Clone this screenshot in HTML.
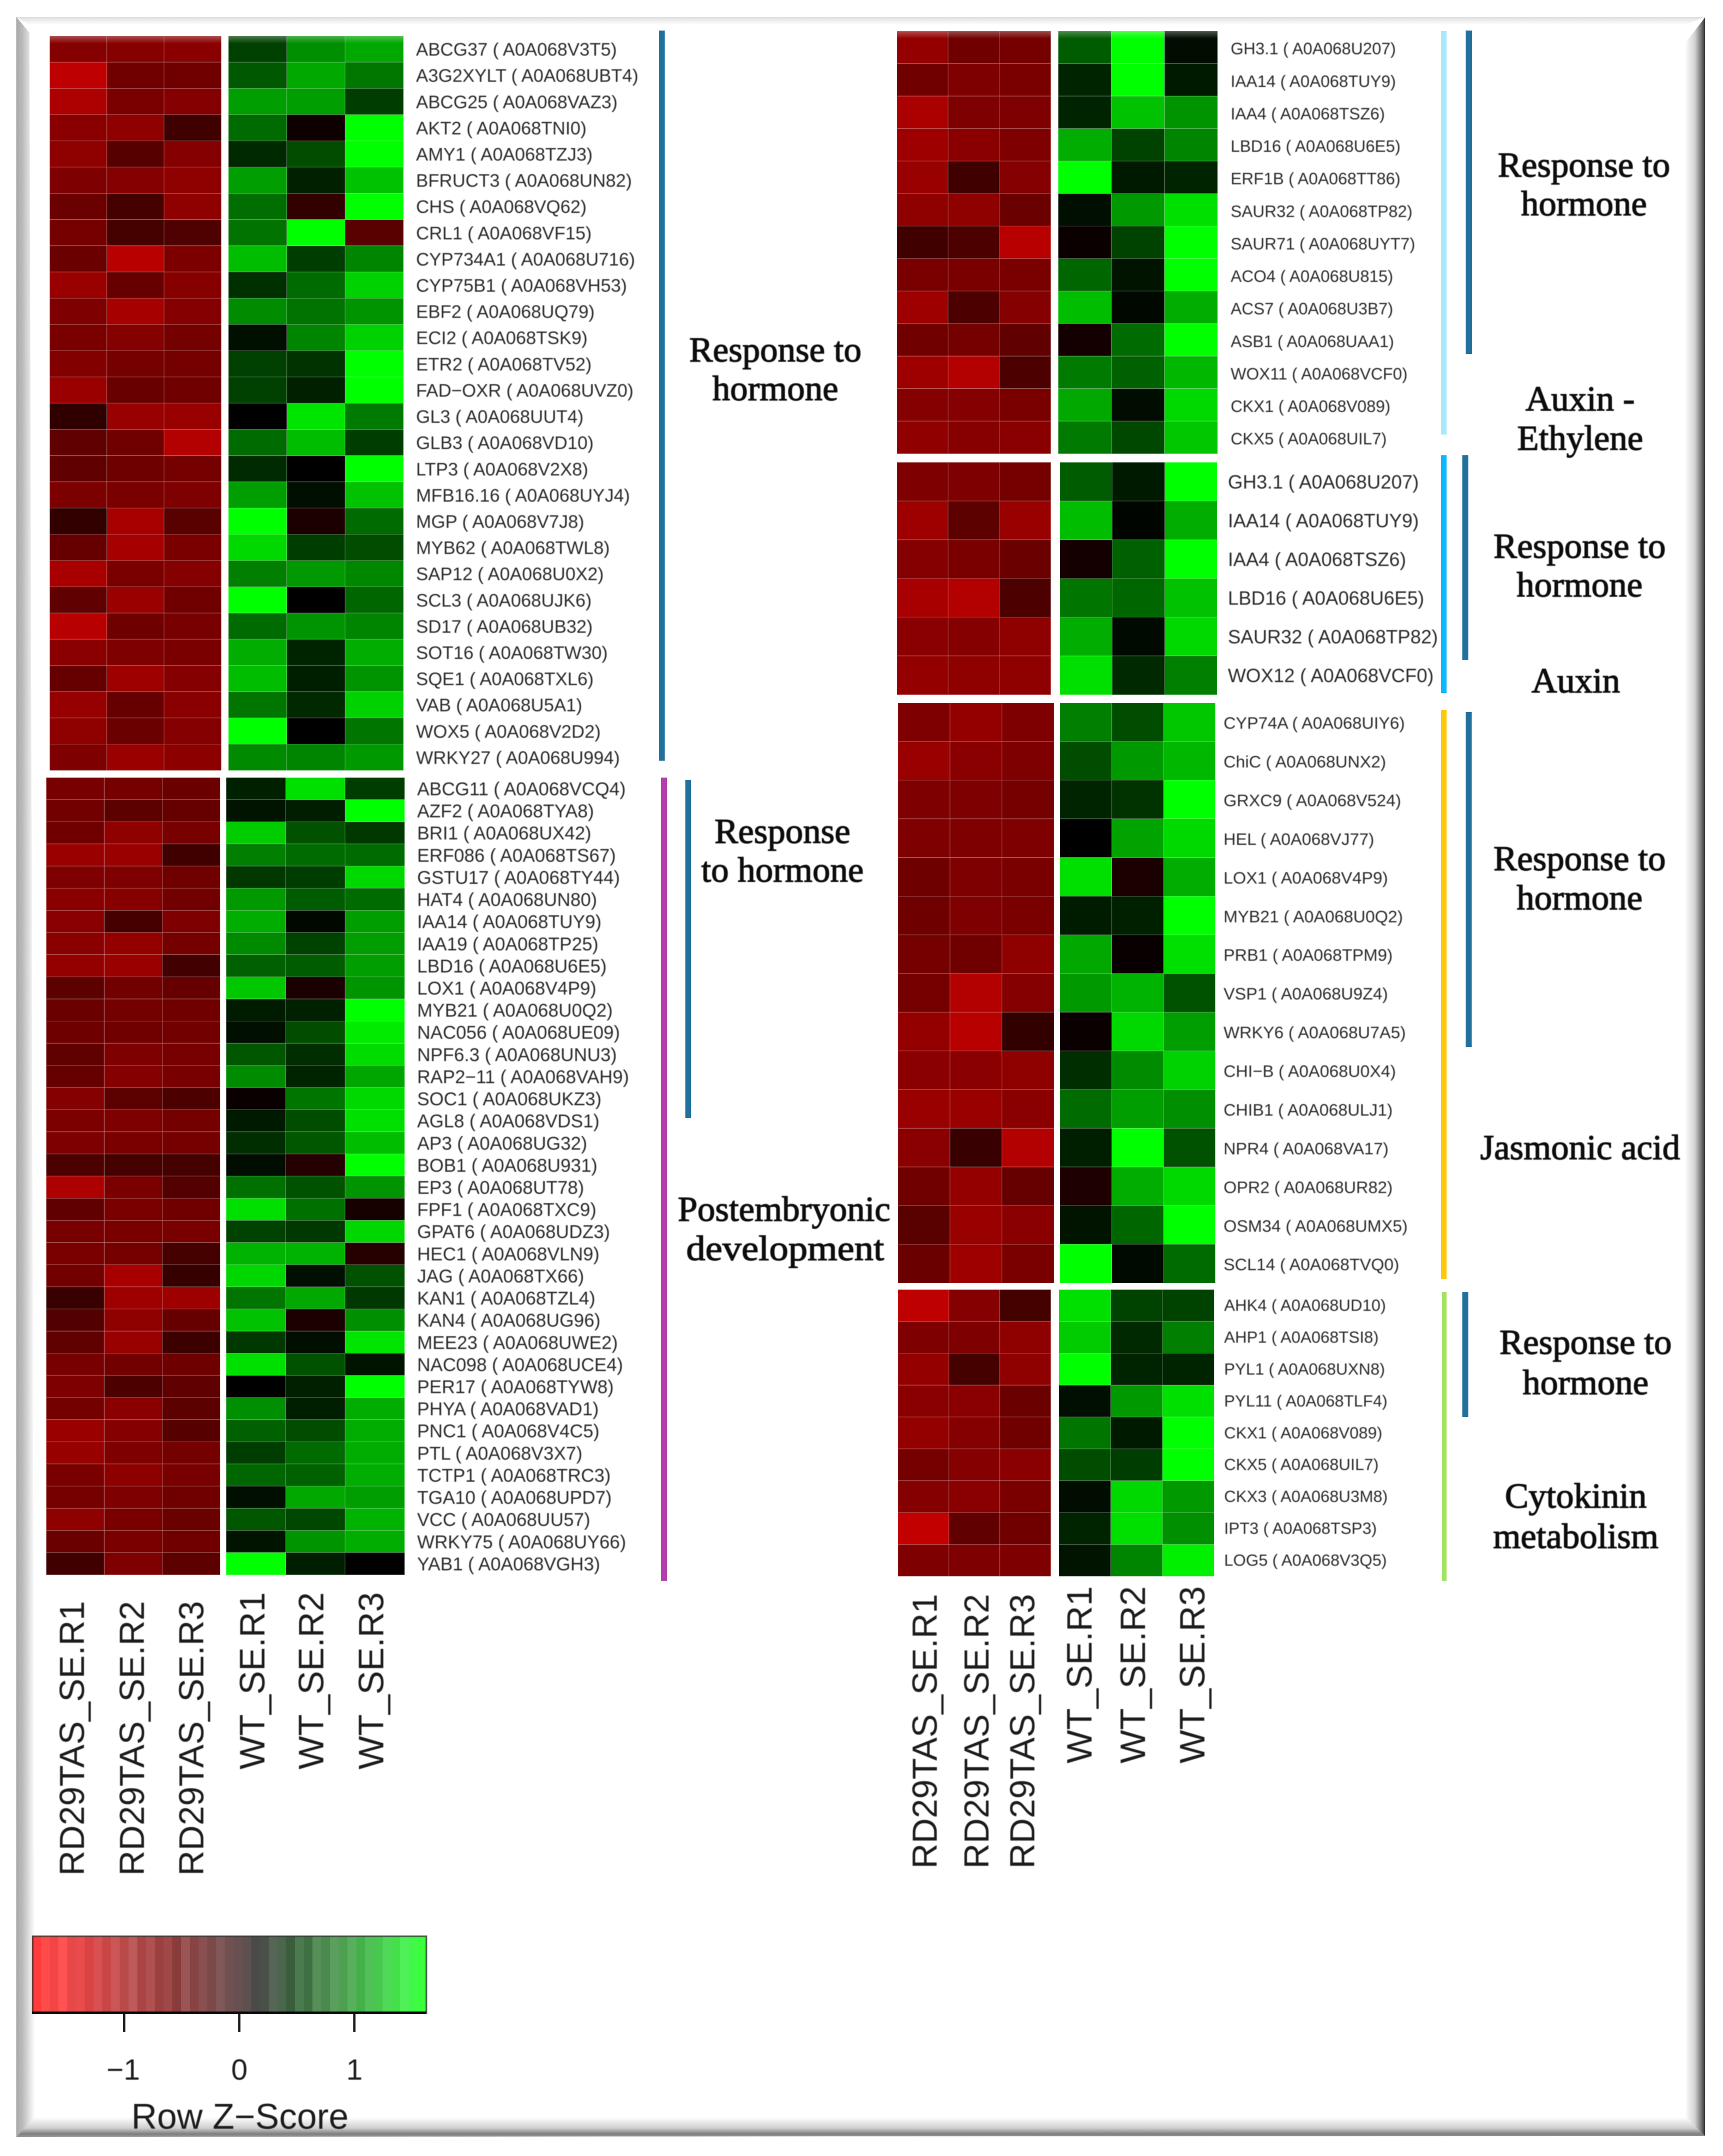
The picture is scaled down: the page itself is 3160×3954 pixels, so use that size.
<!DOCTYPE html>
<html lang="en">
<head>
<meta charset="utf-8">
<title>Heatmaps of hormone-related genes, RD29TAS versus WT</title>
<style>
  html, body { margin: 0; padding: 0; background: #fff; }
  svg { display: block; }
  .gene { font-family: "Liberation Sans", sans-serif; fill: #2a2a2a; }
  .sample { font-family: "Liberation Sans", sans-serif; font-size: 64px; fill: #1c1c1c; }
  .sample-short { font-size: 65px; }
  .note { font-family: "Liberation Serif", serif; font-size: 65px; fill: #111; stroke: #111; stroke-width: 1.4px; text-anchor: middle; }
  .key { font-family: "Liberation Sans", sans-serif; fill: #1c1c1c; text-anchor: middle; }
</style>
</head>
<body>
<svg id="figure" xmlns="http://www.w3.org/2000/svg" width="3160" height="3954" viewBox="0 0 3160 3954">
  <defs>
    <linearGradient id="bevel-left" x1="0" x2="1" y1="0" y2="0"><stop offset="0" stop-color="#a8a8a8"/><stop offset=".35" stop-color="#bdbdbd"/><stop offset="1" stop-color="#fff"/></linearGradient>
    <linearGradient id="bevel-right" x1="0" x2="1" y1="0" y2="0"><stop offset="0" stop-color="#fff"/><stop offset=".5" stop-color="#d2d2d2"/><stop offset=".8" stop-color="#7a7a7a"/><stop offset="1" stop-color="#333"/></linearGradient>
    <linearGradient id="bevel-bottom" x1="0" x2="0" y1="0" y2="1"><stop offset="0" stop-color="#fff"/><stop offset=".55" stop-color="#cfcfcf"/><stop offset=".85" stop-color="#7e7e7e"/><stop offset="1" stop-color="#9a9a9a"/></linearGradient>
    <linearGradient id="bevel-top" x1="0" x2="0" y1="0" y2="1"><stop offset="0" stop-color="#dcdcdc"/><stop offset=".4" stop-color="#ececec"/><stop offset="1" stop-color="#fff"/></linearGradient>
    <linearGradient id="top-fade" x1="0" x2="0" y1="0" y2="1"><stop offset="0" stop-color="#fff" stop-opacity=".3"/><stop offset="1" stop-color="#fff" stop-opacity="0"/></linearGradient>
    <filter id="soft" x="-2%" y="-2%" width="104%" height="104%"><feGaussianBlur stdDeviation="0.9"/></filter>
  </defs>

  <rect x="0" y="0" width="3160" height="3954" fill="#fff"/>

  <g>
    <polygon points="30,31 3127,31 3090,46 54,46" fill="url(#bevel-top)"/>
    <polygon points="30,31 54,60 64,3895 30,3919" fill="url(#bevel-left)"/>
    <polygon points="3127,32 3090,80 3092,3885 3127,3917" fill="url(#bevel-right)"/>
    <polygon points="64,3883 3092,3883 3127,3917 30,3919" fill="url(#bevel-bottom)"/>
  </g>

  <g id="heatmaps"></g>
  <g id="gene-labels" filter="url(#soft)"></g>

  <g>
    <rect x="1209" y="56" width="10" height="1339" fill="#22709c"/>
    <rect x="1212" y="1426" width="11" height="1473" fill="#b23fab"/>
    <rect x="1257" y="1430" width="10" height="620" fill="#22709c"/>
    <rect x="2643" y="57" width="10" height="740" fill="#a9e9ff"/>
    <rect x="2688" y="56" width="12" height="593" fill="#22709c"/>
    <rect x="2643" y="835" width="10" height="436" fill="#0db8ff"/>
    <rect x="2682" y="835" width="11" height="375" fill="#22709c"/>
    <rect x="2643" y="1302" width="10" height="1044" fill="#ffc90a"/>
    <rect x="2688" y="1306" width="11" height="614" fill="#22709c"/>
    <rect x="2645" y="2369" width="8" height="530" fill="#a2e35f"/>
    <rect x="2682" y="2369" width="11" height="230" fill="#22709c"/>
  </g>

  <g filter="url(#soft)">
    <text class="note" x="1422" y="663">Response to</text>
    <text class="note" x="1422" y="734">hormone</text>
    <text class="note" x="1435" y="1546">Response</text>
    <text class="note" x="1435" y="1617">to hormone</text>
    <text class="note" x="1438" y="2239">Postembryonic</text>
    <text class="note" x="1440" y="2311" textLength="363" lengthAdjust="spacingAndGlyphs">development</text>
    <text class="note" x="2905" y="324">Response to</text>
    <text class="note" x="2905" y="395">hormone</text>
    <text class="note" x="2898" y="753">Auxin -</text>
    <text class="note" x="2898" y="825">Ethylene</text>
    <text class="note" x="2897" y="1023">Response to</text>
    <text class="note" x="2897" y="1094">hormone</text>
    <text class="note" x="2890" y="1270">Auxin</text>
    <text class="note" x="2897" y="1596">Response to</text>
    <text class="note" x="2897" y="1668">hormone</text>
    <text class="note" x="2898" y="2126">Jasmonic acid</text>
    <text class="note" x="2908" y="2483">Response to</text>
    <text class="note" x="2908" y="2557">hormone</text>
    <text class="note" x="2890" y="2765">Cytokinin</text>
    <text class="note" x="2890" y="2839">metabolism</text>
  </g>

  <g filter="url(#soft)">
    <text class="sample" transform="translate(154 3440) rotate(-90)">RD29TAS_SE.R1</text>
    <text class="sample" transform="translate(264 3440) rotate(-90)">RD29TAS_SE.R2</text>
    <text class="sample" transform="translate(373 3440) rotate(-90)">RD29TAS_SE.R3</text>
    <text class="sample sample-short" transform="translate(485 3245) rotate(-90)">WT_SE.R1</text>
    <text class="sample sample-short" transform="translate(593 3245) rotate(-90)">WT_SE.R2</text>
    <text class="sample sample-short" transform="translate(703 3245) rotate(-90)">WT_SE.R3</text>
    <text class="sample" transform="translate(1718 3427) rotate(-90)">RD29TAS_SE.R1</text>
    <text class="sample" transform="translate(1813 3427) rotate(-90)">RD29TAS_SE.R2</text>
    <text class="sample" transform="translate(1897 3427) rotate(-90)">RD29TAS_SE.R3</text>
    <text class="sample sample-short" transform="translate(2002 3234) rotate(-90)">WT_SE.R1</text>
    <text class="sample sample-short" transform="translate(2100 3234) rotate(-90)">WT_SE.R2</text>
    <text class="sample sample-short" transform="translate(2209 3234) rotate(-90)">WT_SE.R3</text>
  </g>

  <g id="color-key">
    <g id="color-key-stripes"></g>
    <rect x="60" y="3551" width="722" height="141" fill="none" stroke="#333" stroke-width="3" stroke-opacity=".75"/>
    <rect x="59" y="3689" width="723" height="5" fill="#0a0a0a"/>
    <rect x="226" y="3693" width="4" height="34" fill="#1a1a1a"/>
    <rect x="437" y="3693" width="4" height="34" fill="#1a1a1a"/>
    <rect x="648" y="3693" width="4" height="34" fill="#1a1a1a"/>
    <g filter="url(#soft)">
      <text class="key" x="226" y="3814" font-size="54">−1</text>
      <text class="key" x="439" y="3814" font-size="54">0</text>
      <text class="key" x="650" y="3814" font-size="54">1</text>
      <text class="key" x="440" y="3904" font-size="65.5">Row Z−Score</text>
    </g>
  </g>
</svg>

<script>
// Heat values are percentages of the full colour scale: negative = red, positive = green.
const panelAGenes = ["ABCG37 ( A0A068V3T5)","A3G2XYLT ( A0A068UBT4)","ABCG25 ( A0A068VAZ3)","AKT2 ( A0A068TNI0)","AMY1 ( A0A068TZJ3)","BFRUCT3 ( A0A068UN82)","CHS ( A0A068VQ62)","CRL1 ( A0A068VF15)","CYP734A1 ( A0A068U716)","CYP75B1 ( A0A068VH53)","EBF2 ( A0A068UQ79)","ECI2 ( A0A068TSK9)","ETR2 ( A0A068TV52)","FAD−OXR ( A0A068UVZ0)","GL3 ( A0A068UUT4)","GLB3 ( A0A068VD10)","LTP3 ( A0A068V2X8)","MFB16.16 ( A0A068UYJ4)","MGP ( A0A068V7J8)","MYB62 ( A0A068TWL8)","SAP12 ( A0A068U0X2)","SCL3 ( A0A068UJK6)","SD17 ( A0A068UB32)","SOT16 ( A0A068TW30)","SQE1 ( A0A068TXL6)","VAB ( A0A068U5A1)","WOX5 ( A0A068V2D2)","WRKY27 ( A0A068U994)"];
const panelAValues = [
[-52,-53,-54,25,56,66],[-75,-44,-44,35,66,47],[-68,-48,-52,62,62,24],[-54,-56,-25,42,-6,100],
[-56,-34,-52,16,30,100],[-50,-52,-56,62,13,76],[-42,-27,-56,43,-20,100],[-46,-27,-31,45,100,-35],
[-42,-72,-49,74,24,52],[-60,-40,-53,19,42,82],[-50,-65,-52,55,45,58],[-48,-52,-46,6,52,82],
[-51,-46,-46,25,20,100],[-60,-41,-44,25,13,100],[-19,-60,-60,0,90,48],[-38,-44,-70,42,74,24],
[-38,-43,-46,17,0,100],[-49,-48,-50,62,6,76],[-20,-66,-35,100,-11,42],[-40,-65,-48,85,24,30],
[-66,-48,-52,50,60,53],[-38,-60,-44,100,0,40],[-72,-43,-47,42,58,52],[-54,-50,-48,68,14,68],
[-40,-62,-52,74,12,58],[-59,-40,-54,46,16,82],[-56,-42,-52,100,0,46],[-50,-60,-55,54,52,60]];

const panelBGenes = ["ABCG11 ( A0A068VCQ4)","AZF2 ( A0A068TYA8)","BRI1 ( A0A068UX42)","ERF086 ( A0A068TS67)","GSTU17 ( A0A068TY44)","HAT4 ( A0A068UN80)","IAA14 ( A0A068TUY9)","IAA19 ( A0A068TP25)","LBD16 ( A0A068U6E5)","LOX1 ( A0A068V4P9)","MYB21 ( A0A068U0Q2)","NAC056 ( A0A068UE09)","NPF6.3 ( A0A068UNU3)","RAP2−11 ( A0A068VAH9)","SOC1 ( A0A068UKZ3)","AGL8 ( A0A068VDS1)","AP3 ( A0A068UG32)","BOB1 ( A0A068U931)","EP3 ( A0A068UT78)","FPF1 ( A0A068TXC9)","GPAT6 ( A0A068UDZ3)","HEC1 ( A0A068VLN9)","JAG ( A0A068TX66)","KAN1 ( A0A068TZL4)","KAN4 ( A0A068UG96)","MEE23 ( A0A068UWE2)","NAC098 ( A0A068UCE4)","PER17 ( A0A068TYW8)","PHYA ( A0A068VAD1)","PNC1 ( A0A068V4C5)","PTL ( A0A068V3X7)","TCTP1 ( A0A068TRC3)","TGA10 ( A0A068UPD7)","VCC ( A0A068UU57)","WRKY75 ( A0A068UY66)","YAB1 ( A0A068VGH3)"];
const panelBValues = [
[-47,-46,-42,13,88,24],[-45,-36,-40,8,12,100],[-44,-56,-47,80,32,22],[-60,-60,-25,50,42,42],
[-50,-50,-44,22,24,85],[-54,-53,-45,60,36,42],[-54,-28,-50,68,3,62],[-54,-58,-46,54,26,62],
[-58,-60,-26,38,36,62],[-36,-45,-40,78,-10,58],[-42,-46,-44,11,13,100],[-43,-44,-45,6,30,92],
[-38,-50,-47,34,18,86],[-40,-52,-47,55,14,65],[-52,-36,-30,-4,46,85],[-49,-50,-46,10,30,88],
[-50,-48,-46,18,34,74],[-30,-27,-27,5,-14,100],[-68,-48,-32,44,32,58],[-38,-48,-44,88,44,-9],
[-47,-48,-47,26,22,84],[-48,-46,-27,70,70,-15],[-45,-66,-21,84,6,32],[-22,-62,-62,46,66,22],
[-32,-56,-40,76,-10,56],[-38,-60,-24,22,6,90],[-47,-45,-43,88,32,8],[-50,-30,-38,0,13,100],
[-46,-54,-36,56,12,68],[-60,-52,-34,38,30,68],[-60,-50,-46,24,42,68],[-48,-55,-47,40,38,68],
[-46,-50,-44,6,66,62],[-56,-48,-42,34,28,70],[-42,-48,-44,8,58,68],[-25,-50,-36,100,12,0]];

const panelCGenes = ["GH3.1 ( A0A068U207)","IAA14 ( A0A068TUY9)","IAA4 ( A0A068TSZ6)","LBD16 ( A0A068U6E5)","ERF1B ( A0A068TT86)","SAUR32 ( A0A068TP82)","SAUR71 ( A0A068UYT7)","ACO4 ( A0A068U815)","ACS7 ( A0A068U3B7)","ASB1 ( A0A068UAA1)","WOX11 ( A0A068VCF0)","CKX1 ( A0A068V089)","CKX5 ( A0A068UIL7)"];
const panelCValues = [
[-58,-44,-46,36,100,5],[-44,-50,-48,14,100,10],[-67,-50,-50,14,76,58],[-62,-54,-50,68,26,52],
[-60,-25,-52,100,10,14],[-56,-56,-42,6,60,88],[-25,-30,-72,-4,26,100],[-48,-48,-48,40,8,100],
[-62,-30,-52,74,3,68],[-44,-46,-38,-8,42,100],[-62,-70,-30,48,38,72],[-52,-52,-48,66,5,85],
[-57,-53,-54,48,28,78]];

const panelDGenes = ["GH3.1 ( A0A068U207)","IAA14 ( A0A068TUY9)","IAA4 ( A0A068TSZ6)","LBD16 ( A0A068U6E5)","SAUR32 ( A0A068TP82)","WOX12 ( A0A068VCF0)"];
const panelDValues = [
[-50,-50,-46,36,10,100],[-62,-36,-60,74,2,68],[-52,-48,-42,-8,38,100],
[-66,-70,-30,46,40,76],[-54,-52,-56,68,4,85],[-58,-56,-56,88,16,50]];

const panelEGenes = ["CYP74A ( A0A068UIY6)","ChiC ( A0A068UNX2)","GRXC9 ( A0A068V524)","HEL ( A0A068VJ77)","LOX1 ( A0A068V4P9)","MYB21 ( A0A068U0Q2)","PRB1 ( A0A068TPM9)","VSP1 ( A0A068U9Z4)","WRKY6 ( A0A068U7A5)","CHI−B ( A0A068U0X4)","CHIB1 ( A0A068ULJ1)","NPR4 ( A0A068VA17)","OPR2 ( A0A068UR82)","OSM34 ( A0A068UMX5)","SCL14 ( A0A068TVQ0)"];
const panelEValues = [
[-50,-58,-50,50,30,78],[-60,-54,-50,30,60,72],[-50,-50,-46,14,20,100],[-50,-50,-50,0,64,85],
[-43,-50,-48,88,-10,68],[-43,-50,-48,11,13,100],[-46,-44,-56,66,-3,88],[-46,-70,-52,60,70,32],
[-58,-72,-20,-4,85,62],[-54,-54,-56,18,55,82],[-60,-60,-54,42,62,56],[-54,-22,-70,12,100,32],
[-44,-58,-40,-12,68,85],[-35,-60,-54,8,40,100],[-42,-62,-48,100,4,42]];

const panelFGenes = ["AHK4 ( A0A068UD10)","AHP1 ( A0A068TSI8)","PYL1 ( A0A068UXN8)","PYL11 ( A0A068TLF4)","CKX1 ( A0A068V089)","CKX5 ( A0A068UIL7)","CKX3 ( A0A068U3M8)","IPT3 ( A0A068TSP3)","LOG5 ( A0A068V3Q5)"];
const panelFValues = [
[-75,-52,-27,88,26,26],[-50,-50,-56,80,16,50],[-58,-27,-56,100,14,14],[-54,-54,-42,6,60,88],
[-58,-52,-44,46,10,100],[-46,-52,-54,30,24,100],[-52,-54,-48,5,85,60],[-76,-38,-44,14,88,56],
[-50,-50,-50,8,52,94]];

const colorKeySwatches = ["#ff3c3c","#ff4a4a","#f24545","#ff5252","#e84848","#ea4c4c","#d94343","#d85050","#c94646","#cc5555","#b84a4a","#bd5a5a","#ab4545","#b05050","#9a4040","#a04848","#8a3c3c","#9c5555","#884444","#885050","#7c4848","#805858","#705050","#685050","#5f5050","#4a4a4a","#4a5048","#566656","#4a664c","#3a5e3c","#4a7a4e","#3f7043","#569058","#4a8a4e","#5a9f5e","#4ca050","#58b05c","#44b04a","#52c058","#48c84e","#50d858","#44e04c","#50f058","#40f848","#3cff3c"];

const panels = [
  { id: "a", genes: panelAGenes, values: panelAValues, left: 91, mid: 406, greenLeft: 419, right: 740, top: 66, bottom: 1413, labelX: 763, fontSize: 33.3, nudge: 0, fade: true },
  { id: "b", genes: panelBGenes, values: panelBValues, left: 85, mid: 404, greenLeft: 415, right: 742, top: 1426, bottom: 2888, labelX: 765, fontSize: 33.8, nudge: 0, fade: false },
  { id: "c", genes: panelCGenes, values: panelCValues, left: 1645, mid: 1927, greenLeft: 1941, right: 2233, top: 57, bottom: 832, labelX: 2257, fontSize: 30.3, nudge: 2, fade: true },
  { id: "d", genes: panelDGenes, values: panelDValues, left: 1645, mid: 1927, greenLeft: 1944, right: 2232, top: 848, bottom: 1274, labelX: 2252, fontSize: 35, nudge: 0, fade: false },
  { id: "e", genes: panelEGenes, values: panelEValues, left: 1647, mid: 1933, greenLeft: 1944, right: 2229, top: 1289, bottom: 2353, labelX: 2244, fontSize: 31, nudge: 1, fade: false },
  { id: "f", genes: panelFGenes, values: panelFValues, left: 1647, mid: 1927, greenLeft: 1942, right: 2227, top: 2365, bottom: 2891, labelX: 2245, fontSize: 30, nudge: -1, fade: false }
];

const SVG_NS = "http://www.w3.org/2000/svg";

function heatColor(value) {
  const level = Math.round(Math.min(Math.abs(value), 100) * 2.55);
  return value < 0 ? "rgb(" + level + ",0,0)" : "rgb(0," + level + ",0)";
}

function xAxis(panel, column) {
  if (column < 3) {
    const width = (panel.mid - panel.left) / 3;
    return { x: panel.left + column * width, width: width };
  }
  const width = (panel.right - panel.greenLeft) / 3;
  return { x: panel.greenLeft + (column - 3) * width, width: width };
}

function yAxis(panel, row) {
  const height = (panel.bottom - panel.top) / panel.values.length;
  return { y: panel.top + row * height, height: height };
}

const heatLayer = document.getElementById("heatmaps");
const labelLayer = document.getElementById("gene-labels");

panels.forEach(function (panel) {
  const group = document.createElementNS(SVG_NS, "g");
  
  
  heatLayer.appendChild(group);

  panel.values.forEach(function (rowValues, row) {
    const yPos = yAxis(panel, row);
    rowValues.forEach(function (value, column) {
      const xPos = xAxis(panel, column);
      const cell = document.createElementNS(SVG_NS, "rect");
      cell.setAttribute("x", xPos.x);
      cell.setAttribute("y", yPos.y);
      cell.setAttribute("width", xPos.width);
      cell.setAttribute("height", yPos.height);
      cell.setAttribute("fill", heatColor(value));
      cell.setAttribute("stroke", "rgba(255,255,255,0.16)");
      cell.setAttribute("stroke-width", "1.5");
      
      
      group.appendChild(cell);
    });

    const label = document.createElementNS(SVG_NS, "text");
    label.setAttribute("class", "gene");
    label.setAttribute("x", panel.labelX);
    label.setAttribute("y", yPos.y + yPos.height / 2 + panel.nudge + panel.fontSize * 0.36);
    label.setAttribute("font-size", panel.fontSize);
    label.textContent = panel.genes[row];
    
    
    labelLayer.appendChild(label);
  });

  if (panel.fade) {
    const fade = document.createElementNS(SVG_NS, "rect");
    fade.setAttribute("x", panel.left);
    fade.setAttribute("y", panel.top);
    fade.setAttribute("width", panel.right - panel.left);
    fade.setAttribute("height", 14);
    fade.setAttribute("fill", "url(#top-fade)");
    
    
    group.appendChild(fade);
  }
});

const keyLayer = document.getElementById("color-key-stripes");
const keyLeft = 59;
const keyWidth = 723;
colorKeySwatches.forEach(function (color, index) {
  const stripe = document.createElementNS(SVG_NS, "rect");
  const stripeWidth = keyWidth / colorKeySwatches.length;
  stripe.setAttribute("x", keyLeft + index * stripeWidth);
  stripe.setAttribute("y", 3551);
  stripe.setAttribute("width", stripeWidth + 0.5);
  stripe.setAttribute("height", 140);
  stripe.setAttribute("fill", color);
  
  
  keyLayer.appendChild(stripe);
});
</script>
</body>
</html>
